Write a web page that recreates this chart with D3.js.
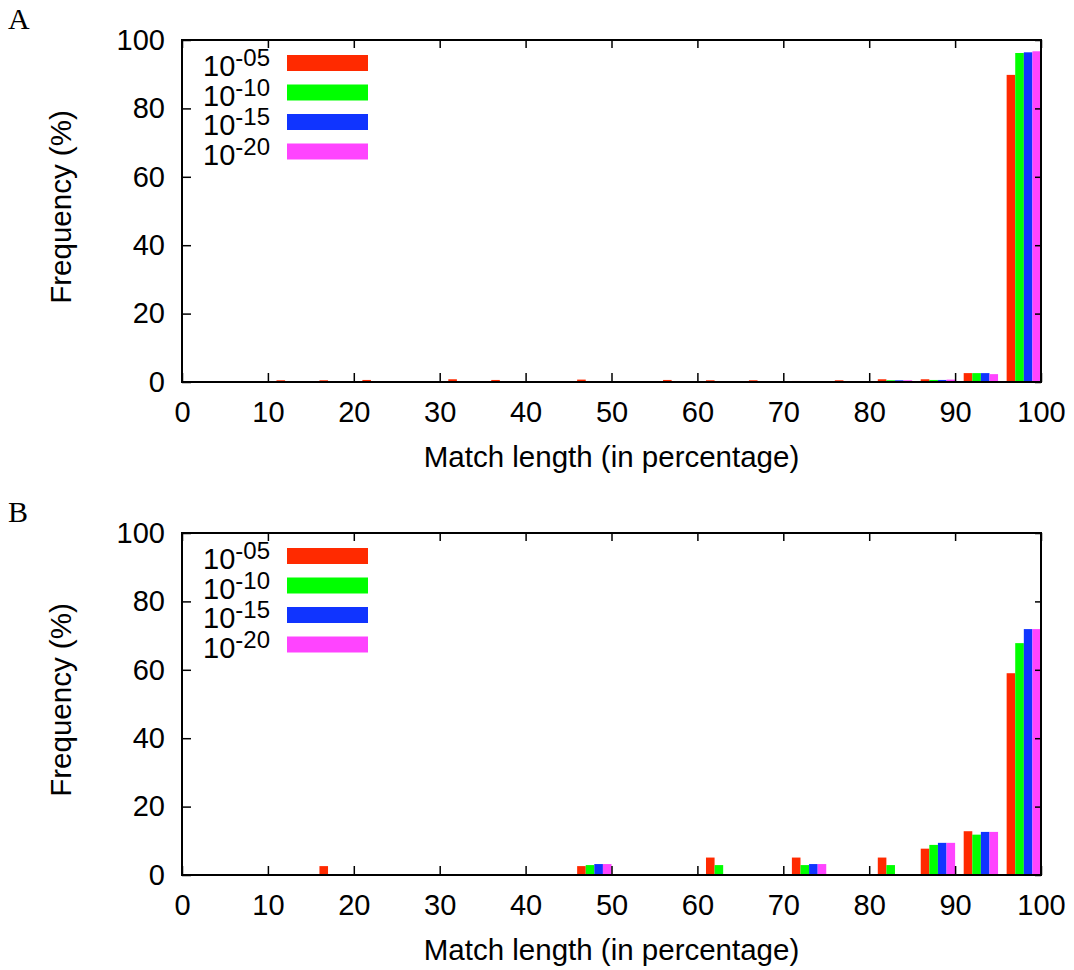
<!DOCTYPE html>
<html>
<head>
<meta charset="utf-8">
<script src="https://cdn.jsdelivr.net/npm/d3@7"></script>
<style>
  body { margin: 0; background: #fff; }
  svg text { font-family: "Liberation Sans", Arial, sans-serif; fill: #000; }
  .axis path { display: none; }
  .axis line { stroke: #000; stroke-width: 1.5; }
  .axis text { font-size: 29px; }
</style>
</head>
<body>
<div id="chart"></div>
<script>
// lower edges of the 5% bins
const bins = [0, 5, 10, 15, 20, 25, 30, 35, 40, 45, 50, 55, 60, 65, 70, 75, 80, 85, 90, 95];

// legend exponents and colours (one per series)
const exponents = ["-05", "-10", "-15", "-20"];
const colors = ["#ff2a00", "#00ff00", "#1034ff", "#ff44ff"];

const xTicks = [0, 10, 20, 30, 40, 50, 60, 70, 80, 90, 100];
const yTicks = [0, 20, 40, 60, 80, 100];

// panel A values (%)
const a05 = [0.2, 0.1, 0.5, 0.5, 0.6, 0.2, 0.8, 0.6, 0.2, 0.7, 0.2, 0.6, 0.5, 0.5, 0.3, 0.5, 0.8, 0.8, 2.6, 89.8];
const a10 = [0, 0, 0.1, 0, 0, 0, 0, 0, 0, 0, 0, 0, 0, 0.1, 0, 0.2, 0.5, 0.6, 2.6, 96.2];
const a15 = [0, 0, 0, 0, 0, 0, 0, 0, 0, 0, 0, 0, 0, 0.1, 0, 0.2, 0.5, 0.6, 2.6, 96.4];
const a20 = [0, 0, 0, 0, 0, 0, 0, 0, 0, 0, 0, 0, 0, 0.1, 0, 0.2, 0.5, 0.7, 2.3, 96.7];

// panel B values (%)
const b05 = [0, 0, 0, 2.6, 0, 0, 0, 0, 0, 2.6, 0, 0, 5.1, 0, 5.1, 0, 5.1, 7.7, 12.8, 59.0];
const b10 = [0, 0, 0, 0, 0, 0, 0, 0, 0, 2.9, 0, 0, 2.9, 0, 2.9, 0, 2.9, 8.8, 11.8, 67.8];
const b15 = [0, 0, 0, 0, 0, 0, 0, 0, 0, 3.2, 0, 0, 0, 0, 3.2, 0, 0, 9.4, 12.6, 71.9];
const b20 = [0, 0, 0, 0, 0, 0, 0, 0, 0, 3.2, 0, 0, 0, 0, 3.2, 0, 0, 9.4, 12.6, 71.9];

const svg = d3.select("#chart")
  .append("svg")
    .attr("width", 1074)
    .attr("height", 970);

const x = d3.scaleLinear().domain([0, 100]).range([182, 1041]);

function drawPanel(top, letter, series) {
  const bottom = top + 342;
  const y = d3.scaleLinear().domain([0, 100]).range([bottom, top]);
  const g = svg.append("g");

  // panel letter
  g.append("text")
    .attr("x", 8)
    .attr("y", top - 11)
    .style("font-family", "'Liberation Serif', 'Times New Roman', serif")
    .style("font-size", "30px")
    .text(letter);

  // bars: four series side by side inside each 5% bin
  series.forEach((vals, i) => {
    g.append("g")
      .selectAll("rect")
      .data(bins.map((b, k) => ({b: b, v: vals[k]})).filter(d => d.v > 0))
      .enter()
      .append("rect")
        .attr("x", d => x(d.b + 1 + i))
        .attr("width", d => x(d.b + 2 + i) - x(d.b + 1 + i))
        .attr("y", d => y(d.v))
        .attr("height", d => y(0) - y(d.v))
        .attr("fill", colors[i]);
  });

  // axes with inward ticks, mirrored on top and right
  g.append("g").attr("class", "axis")
    .attr("transform", `translate(0,${bottom})`)
    .call(d3.axisBottom(x).tickValues(xTicks).tickSize(-9).tickPadding(19));
  g.append("g").attr("class", "axis")
    .attr("transform", `translate(0,${top})`)
    .call(d3.axisTop(x).tickValues(xTicks).tickSize(-8).tickFormat(""));
  g.append("g").attr("class", "axis")
    .attr("transform", `translate(${x(0)},0)`)
    .call(d3.axisLeft(y).tickValues(yTicks).tickSize(-9).tickPadding(17));
  g.append("g").attr("class", "axis")
    .attr("transform", `translate(${x(100)},0)`)
    .call(d3.axisRight(y).tickValues(yTicks).tickSize(-6).tickFormat(""));

  // frame
  g.append("rect")
    .attr("x", x(0))
    .attr("y", top)
    .attr("width", x(100) - x(0))
    .attr("height", bottom - top)
    .attr("fill", "none")
    .attr("stroke", "#000")
    .attr("stroke-width", 2);

  // axis titles
  g.append("text")
    .attr("x", (x(0) + x(100)) / 2)
    .attr("y", bottom + 85)
    .attr("text-anchor", "middle")
    .style("font-size", "29.5px")
    .text("Match length (in percentage)");
  g.append("text")
    .attr("transform", `translate(71,${(top + bottom) / 2 - 4}) rotate(-90)`)
    .attr("text-anchor", "middle")
    .style("font-size", "29.5px")
    .text("Frequency (%)");

  // legend
  const legend = g.append("g")
    .selectAll("g")
    .data(exponents)
    .enter()
    .append("g")
      .attr("transform", (d, i) => `translate(0,${top + 36 + i * 29.5})`);
  legend.append("text")
    .attr("x", 270)
    .attr("y", 0)
    .attr("text-anchor", "end")
    .style("font-size", "29px")
    .text("10")
    .append("tspan")
      .attr("dy", -10)
      .style("font-size", "24px")
      .text(d => d);
  legend.append("rect")
    .attr("x", 287)
    .attr("y", -21)
    .attr("width", 81)
    .attr("height", 16)
    .attr("fill", (d, i) => colors[i]);
}

drawPanel(40, "A", [a05, a10, a15, a20]);
drawPanel(533, "B", [b05, b10, b15, b20]);
</script>
</body>
</html>
